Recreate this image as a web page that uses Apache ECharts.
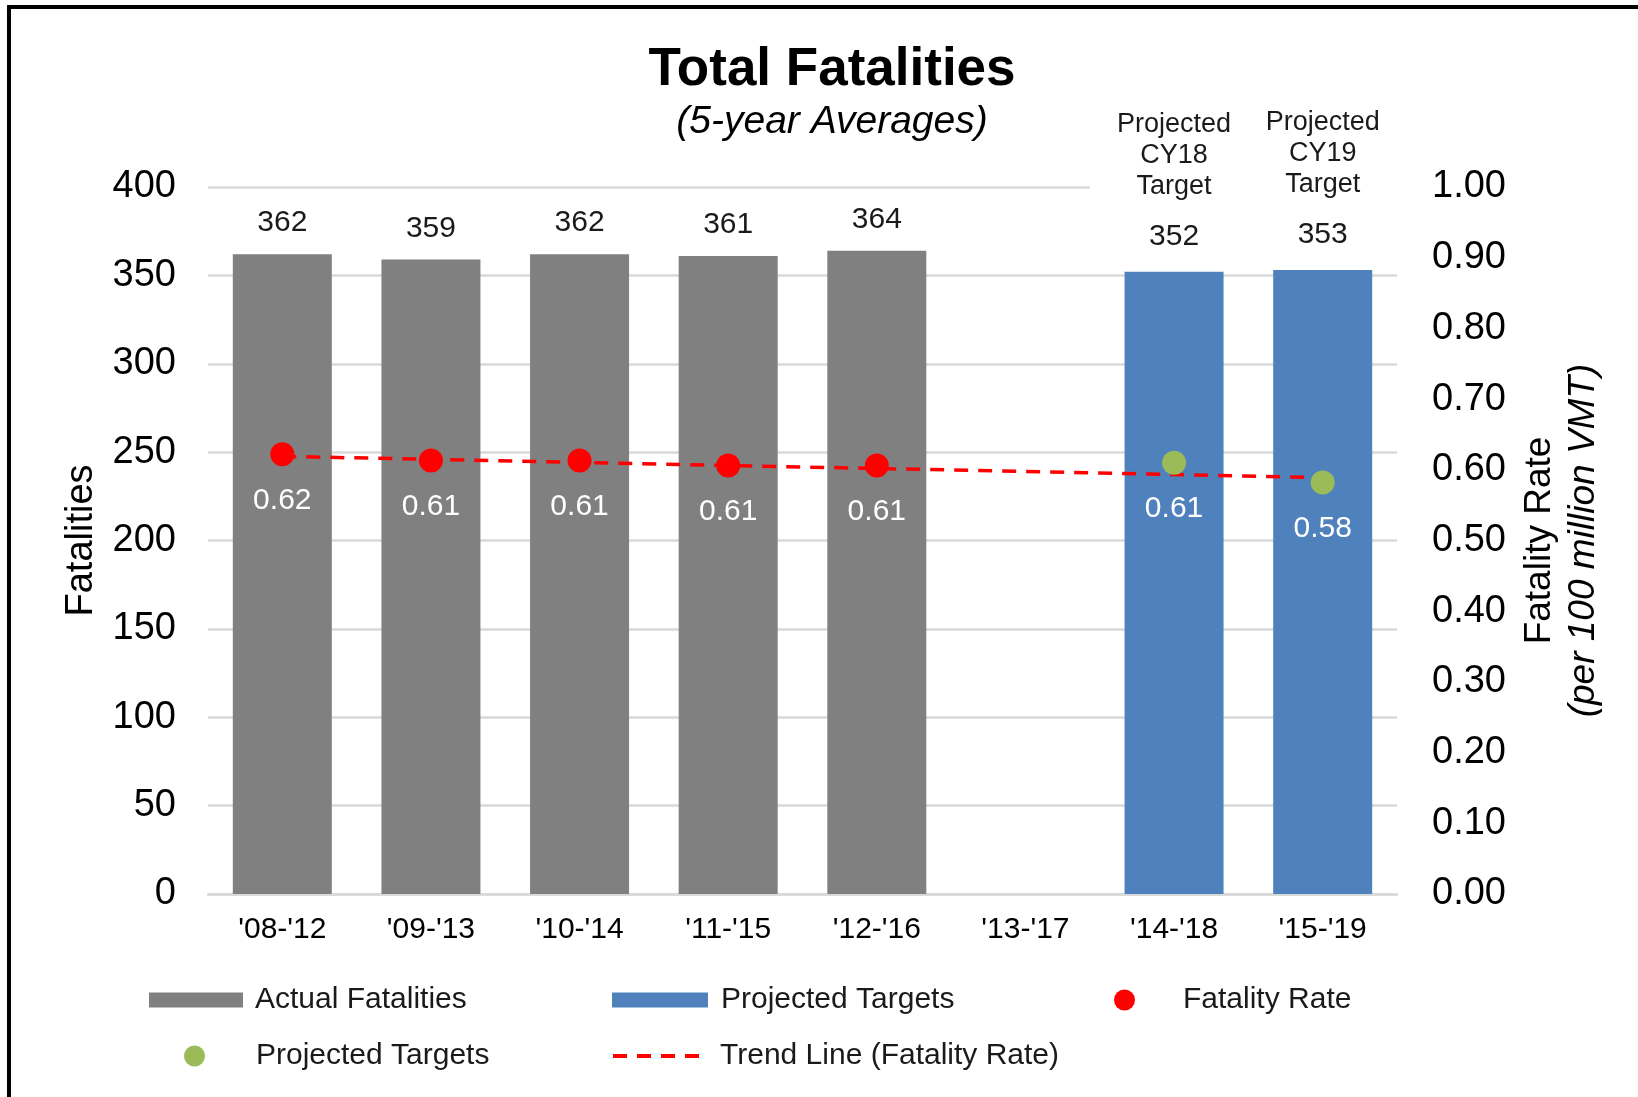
<!DOCTYPE html>
<html>
<head>
    <meta charset="utf-8">
    <title>Total Fatalities</title>
    <script type="text/javascript" src="https://cdn.jsdelivr.net/npm/echarts@6/dist/echarts.min.js"></script>
</head>
<style type="text/css">
    html, body {
        margin: 0;
        padding: 0;
        background: #fff;
    }

    #main {
        width: 1638px;
        height: 1097px;
    }
</style>
<body>
    <div id="main"></div>

    <script type="text/javascript">
        // 5-year average periods
        var periods = ["'08-'12", "'09-'13", "'10-'14", "'11-'15", "'12-'16", "'13-'17", "'14-'18", "'15-'19"];

        // fatalities (left axis)
        var actualFatalities = [362, 359, 362, 361, 364, '-', '-', '-'];
        var projectedFatalities = ['-', '-', '-', '-', '-', '-', 352, 353];
        var targetNotes = ['', '', '', '', '', '', 'Projected\nCY18\nTarget', 'Projected\nCY19\nTarget'];

        // fatality rate per 100 million VMT (right axis)
        var fatalityRate = [0.622, 0.613, 0.613, 0.606, 0.606, '-', '-', '-'];
        var projectedRate = ['-', '-', '-', '-', '-', '-', 0.610, 0.582];
        var trendRate = [0.619, '-', '-', '-', '-', '-', '-', 0.589];

        var leftTicks = { min: 0, max: 400, interval: 50 };
        var rightTicks = { min: 0, max: 1, interval: 0.1 };

        var FONT = 'Liberation Sans, Arial, sans-serif';
        var GRAY = '#808080';
        var BLUE = '#4f81bd';
        var RED = '#ff0000';
        var GREEN = '#9bbb59';
        var GRID = '#d9d9d9';

        var chart = echarts.init(document.getElementById('main'));

        function legendBox(name, left, top, w, h, pad, icon) {
            var lg = {
                data: [name],
                left: left,
                top: top,
                orient: 'horizontal',
                itemWidth: w,
                itemHeight: h,
                selectedMode: false,
                formatter: function (n) {
                    return n === 'Projected Targets (rate)' ? 'Projected Targets' : n;
                },
                textStyle: {
                    fontFamily: FONT,
                    fontSize: 30,
                    color: '#1a1a1a',
                    padding: [0, 0, 0, pad]
                }
            };
            if (icon) lg.icon = icon;
            return lg;
        }

        var trendLegend = legendBox('Trend Line (Fatality Rate)', 606, 1036, 92, 15, 10);
        trendLegend.itemStyle = { opacity: 0, borderWidth: 0 };
        trendLegend.lineStyle = { width: 4 };

        var option = {
            animation: false,
            backgroundColor: '#fff',
            textStyle: { fontFamily: FONT },
            title: {
                text: 'Total Fatalities',
                subtext: '(5-year Averages)',
                left: 827,
                textAlign: 'center',
                top: 39,
                itemGap: 6,
                textStyle: {
                    fontFamily: FONT,
                    fontSize: 53,
                    fontWeight: 'bold',
                    color: '#000'
                },
                subtextStyle: {
                    fontFamily: FONT,
                    fontSize: 39,
                    fontStyle: 'italic',
                    color: '#000'
                }
            },
            grid: {
                left: 208,
                right: 241,
                top: 187,
                bottom: 203
            },
            legend: [
                legendBox('Actual Fatalities', 144, 980, 94, 15, 7, 'rect'),
                legendBox('Projected Targets', 607, 980, 96, 15, 8, 'rect'),
                legendBox('Fatality Rate', 1109, 980, 21, 21, 43, 'circle'),
                legendBox('Projected Targets (rate)', 179, 1036, 21, 21, 46, 'circle'),
                trendLegend
            ],
            xAxis: {
                type: 'category',
                data: periods,
                axisTick: { show: false },
                axisLine: { lineStyle: { color: GRID, width: 2.5 } },
                axisLabel: {
                    fontFamily: FONT,
                    fontSize: 30,
                    color: '#000',
                    margin: 21
                }
            },
            yAxis: [{
                type: 'value',
                min: leftTicks.min,
                max: leftTicks.max,
                interval: leftTicks.interval,
                name: 'Fatalities',
                nameLocation: 'middle',
                nameGap: 107,
                nameTextStyle: { fontFamily: FONT, fontSize: 38, color: '#000' },
                axisLine: { show: false },
                axisTick: { show: false },
                axisLabel: { fontFamily: FONT, fontSize: 38, color: '#000', margin: 32 },
                splitLine: { lineStyle: { color: GRID, width: 2.5 } }
            }, {
                type: 'value',
                min: rightTicks.min,
                max: rightTicks.max,
                interval: rightTicks.interval,
                name: '{a|Fatality Rate}\n{b|(per 100 million VMT)}',
                nameLocation: 'middle',
                nameGap: 121,
                nameTextStyle: {
                    rich: {
                        a: { fontFamily: FONT, fontSize: 37, color: '#000', lineHeight: 44 },
                        b: { fontFamily: FONT, fontSize: 37, color: '#000', fontStyle: 'italic', lineHeight: 44 }
                    }
                },
                axisLine: { show: false },
                axisTick: { show: false },
                axisLabel: {
                    fontFamily: FONT,
                    fontSize: 38,
                    color: '#000',
                    margin: 35,
                    formatter: function (v) { return v.toFixed(2); }
                },
                splitLine: { show: false }
            }],
            graphic: [{
                // hides the top gridline behind the target notes
                type: 'rect',
                z: 1,
                shape: { x: 1090, y: 180, width: 320, height: 14 },
                style: { fill: '#fff' }
            }, {
                type: 'rect',
                z: 100,
                shape: { x: 9, y: 7, width: 1700, height: 1200 },
                style: { fill: 'none', stroke: '#000', lineWidth: 4 }
            }],
            series: [{
                name: 'Actual Fatalities',
                type: 'bar',
                data: actualFatalities,
                barWidth: 99,
                barGap: '-100%',
                itemStyle: { color: GRAY },
                label: {
                    show: true,
                    position: 'top',
                    distance: 16,
                    fontFamily: FONT,
                    fontSize: 30,
                    color: '#1a1a1a'
                }
            }, {
                name: 'Projected Targets',
                type: 'bar',
                data: projectedFatalities,
                barWidth: 99,
                barGap: '-100%',
                itemStyle: { color: BLUE },
                label: {
                    show: true,
                    position: 'top',
                    distance: 0,
                    formatter: function (p) {
                        var lines = targetNotes[p.dataIndex].split('\n').map(function (s) {
                            return '{p|' + s + '}';
                        });
                        return lines.join('\n') + '\n{v|' + p.value + '}';
                    },
                    rich: {
                        p: { fontFamily: FONT, fontSize: 27, lineHeight: 31, color: '#1a1a1a' },
                        v: { fontFamily: FONT, fontSize: 30, lineHeight: 70, color: '#1a1a1a' }
                    }
                }
            }, {
                name: 'Trend Line (Fatality Rate)',
                type: 'line',
                yAxisIndex: 1,
                data: trendRate,
                connectNulls: true,
                symbol: 'none',
                showSymbol: false,
                z: 3,
                itemStyle: { color: RED },
                lineStyle: { color: RED, width: 3.5, type: [14, 10] }
            }, {
                name: 'Fatality Rate',
                type: 'scatter',
                yAxisIndex: 1,
                data: fatalityRate,
                symbolSize: 24,
                z: 4,
                itemStyle: { color: RED, opacity: 1 },
                label: {
                    show: true,
                    position: 'bottom',
                    distance: 19,
                    fontFamily: FONT,
                    fontSize: 30,
                    color: '#fff',
                    formatter: function (p) { return p.value.toFixed(2); }
                }
            }, {
                name: 'Projected Targets (rate)',
                type: 'scatter',
                yAxisIndex: 1,
                data: projectedRate,
                symbolSize: 24,
                z: 4,
                itemStyle: { color: GREEN, opacity: 1 },
                label: {
                    show: true,
                    position: 'bottom',
                    distance: 19,
                    fontFamily: FONT,
                    fontSize: 30,
                    color: '#fff',
                    formatter: function (p) { return p.value.toFixed(2); }
                }
            }]
        };
        chart.setOption(option);

        window.addEventListener('resize', function () {
            chart.resize();
        });
    </script>
</body>
</html>
